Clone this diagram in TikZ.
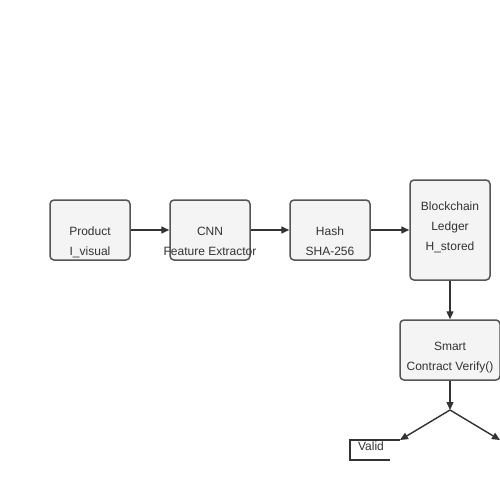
\documentclass[tikz,border=0pt]{standalone}
\usepackage{fontspec}
\setmainfont{Liberation Sans}
\usetikzlibrary{arrows.meta}
\definecolor{boxfill}{HTML}{F4F4F4}
\definecolor{boxline}{HTML}{555555}
\definecolor{ink}{HTML}{333333}
\begin{document}
\begin{tikzpicture}[x=1pt,y=-1pt,
  box/.style={draw=boxline,fill=boxfill,line width=1.5pt,rounded corners=4pt,inner sep=0pt},
  txt/.style={text=ink,font=\fontsize{12}{14}\selectfont,anchor=base,inner sep=0pt},
  conn/.style={draw=ink,line width=1.4pt,-{Triangle[length=8pt,width=7pt]}},
  plain/.style={draw=ink,line width=1.4pt}]
\useasboundingbox (0,0) rectangle (500,500);
\node[box,minimum width=80pt,minimum height=60pt] (prod) at (90,230) {};
\node[box,minimum width=80pt,minimum height=60pt] (cnn) at (210,230) {};
\node[box,minimum width=80pt,minimum height=60pt] (hash) at (330,230) {};
\node[box,minimum width=80pt,minimum height=100pt] (chain) at (450,230) {};
\node[box,minimum width=100pt,minimum height=60pt] (smart) at (450,350) {};
\node[txt] (t1) at (90,235) {Product};
\node[txt] (t2) at (90,255) {I\_visual};
\node[txt] (t3) at (210,235) {CNN};
\node[txt] (t4) at (210,255) {Feature Extractor};
\node[txt] (t5) at (330,235) {Hash};
\node[txt] (t6) at (330,255) {SHA-256};
\node[txt] (t7) at (450,210) {Blockchain};
\node[txt] (t8) at (450,230) {Ledger};
\node[txt] (t9) at (450,250) {H\_stored};
\node[txt] (t10) at (450,350) {Smart};
\node[txt] (t11) at (450,370) {Contract Verify()};
\node[txt] (valid) at (371,450) {Valid};
\coordinate (split) at (450,410);
\coordinate (left) at (400,440);
\coordinate (right) at (500,440);
\draw[conn] (prod.east) -- (cnn.west);
\draw[conn] (cnn.east) -- (hash.west);
\draw[conn] (hash.east) -- (chain.west|-hash.east);
\draw[conn] (chain.south) -- (smart.north);
\draw[conn] (smart.south) -- (split);
\draw[conn] (split) -- (left);
\draw[conn] (split) -- (right);
\draw[plain] (left) -- (350,440) -- (350,460) -- (390,460);
\end{tikzpicture}
\end{document}
